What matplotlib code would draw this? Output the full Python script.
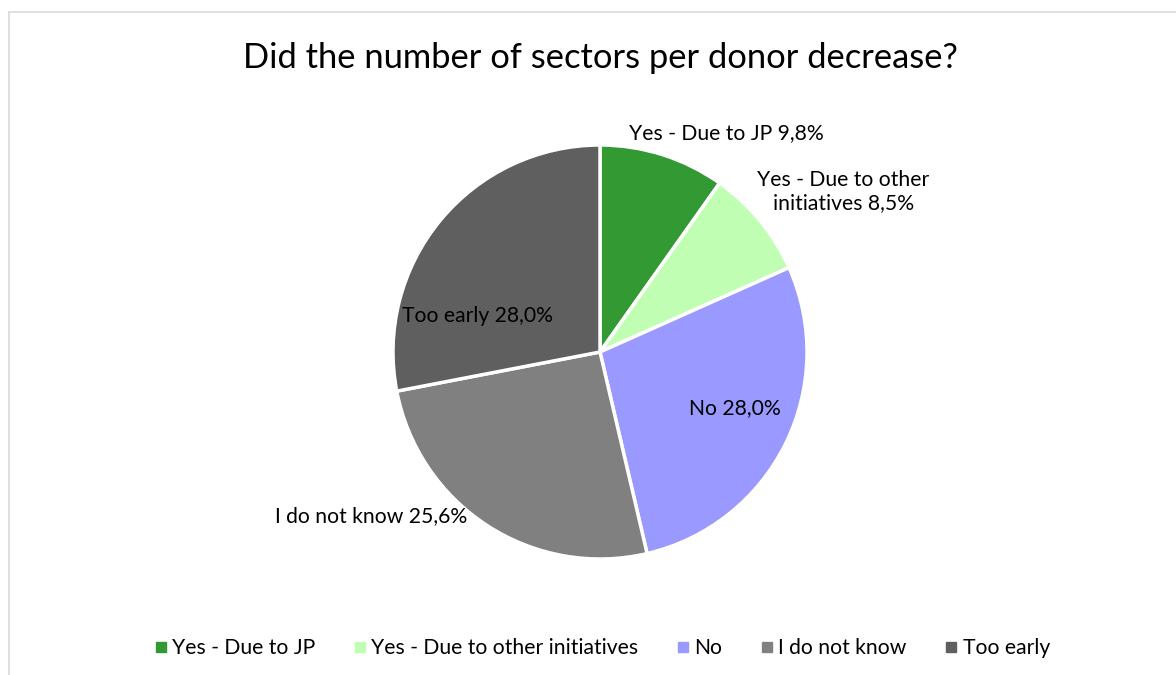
import matplotlib
matplotlib.use("Agg")
import matplotlib.pyplot as plt
from matplotlib.lines import Line2D

plt.rcParams['font.family'] = ['Lato', 'DejaVu Sans']

# survey answers (percent of respondents)
categories = ["Yes - Due to JP", "Yes - Due to other initiatives", "No", "I do not know", "Too early"]
shares = [9.8, 8.5, 28.0, 25.6, 28.0]
slice_colors = ["#339933", "#c0ffb3", "#9999ff", "#808080", "#5f5f5f"]

# label text per slice and where it sits (in pie-radius units)
label_text = ["Yes - Due to JP", "Yes - Due to other\ninitiatives", "No", "I do not know", "Too early"]
label_pos = [(0.609, 1.058), (1.175, 0.773), (0.652, -0.271), (-1.106, -0.792), (-0.594, 0.174)]

W, H = 1176, 675
fig = plt.figure(figsize=(W / 100, H / 100), dpi=100)

# chart frame (left and top edges visible)
fig.add_artist(Line2D([8.5 / W, 8.5 / W], [0, 1 - 12 / H], color="#d9d9d9", lw=1.2))
fig.add_artist(Line2D([8.5 / W, 1], [1 - 12 / H, 1 - 12 / H], color="#d9d9d9", lw=1.2))

cx, cy, R = 600, 352, 207
ax = fig.add_axes([(cx - R) / W, (H - cy - R) / H, 2 * R / W, 2 * R / H])
ax.pie(shares, colors=slice_colors, startangle=90, counterclock=False,
       wedgeprops=dict(edgecolor="white", linewidth=2.5))
ax.set_xlim(-1, 1)
ax.set_ylim(-1, 1)
ax.set_aspect("equal")
ax.axis("off")

for txt, v, (x, y) in zip(label_text, shares, label_pos):
    s = f"{txt} {v:.1f}%".replace(".", ",")
    ax.text(x, y, s, ha="center", va="center", fontsize=15.2, color="#000000",
            multialignment="center", linespacing=1.2)

fig.text(600 / W, 1 - 58 / H, "Did the number of sectors per donor decrease?",
         ha="center", va="center", fontsize=24.8, color="#000000")

handles = [Line2D([], [], marker="s", linestyle="", markersize=6.5, markerfacecolor=c,
                  markeredgecolor=c) for c in slice_colors]
fig.legend(handles, categories, loc="center", bbox_to_anchor=(600 / W, 1 - 648 / H),
           ncol=5, frameon=False, fontsize=15.2, handletextpad=0.05, columnspacing=1.6,
           handlelength=1.0)

fig.savefig("out.png", dpi=100)
